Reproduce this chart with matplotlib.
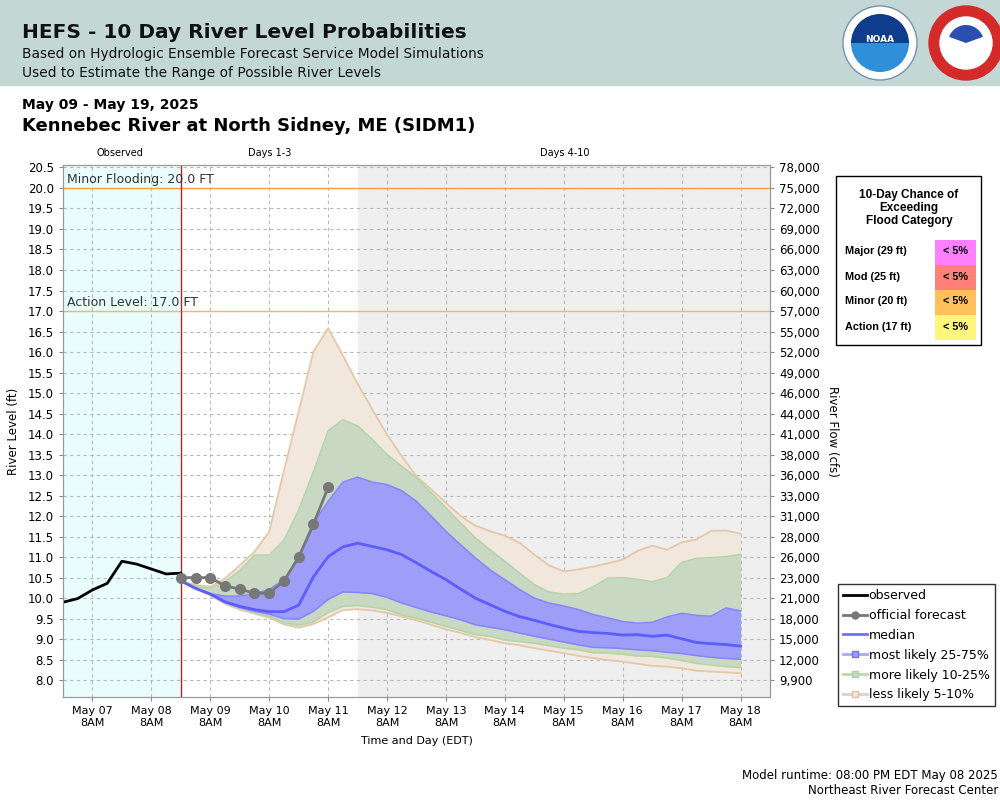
import numpy as np
import pandas as pd
import matplotlib
matplotlib.use("Agg")
import matplotlib.pyplot as plt
import matplotlib.dates as mdates
from matplotlib.patches import Rectangle, Circle, Wedge
from matplotlib.lines import Line2D

# ---------------- data ----------------
obs_start = "2025-05-06 20:00"
observed_stage = [9.90, 9.99, 10.20, 10.36, 10.90, 10.83, 10.71, 10.59, 10.61]

fc_start = "2025-05-08 20:00"
official_stage = [10.50, 10.50, 10.50, 10.30, 10.22, 10.12, 10.12, 10.42, 11.00, 11.80, 12.70]

p95 = [10.42, 10.32, 10.28, 10.48, 10.80, 11.13, 11.62, 13.11, 14.55, 16.01, 16.58, 15.92, 15.23,
       14.60, 13.99, 13.46, 12.97, 12.65, 12.32, 12.00, 11.77, 11.63, 11.52, 11.35, 11.06, 10.80,
       10.65, 10.70, 10.77, 10.85, 10.94, 11.15, 11.28, 11.18, 11.36, 11.43, 11.64, 11.65, 11.57]
p90 = [10.42, 10.29, 10.24, 10.40, 10.67, 11.05, 11.05, 11.41, 12.15, 13.08, 14.08, 14.35, 14.20,
       13.87, 13.50, 13.22, 12.93, 12.57, 12.20, 11.83, 11.47, 11.18, 10.90, 10.61, 10.33, 10.15,
       10.10, 10.11, 10.28, 10.49, 10.50, 10.46, 10.40, 10.50, 10.87, 10.97, 10.99, 11.01, 11.07]
p75 = [10.42, 10.24, 10.11, 10.05, 10.05, 10.11, 10.21, 10.45, 10.97, 11.82, 12.36, 12.83, 12.95,
       12.83, 12.77, 12.62, 12.36, 12.00, 11.63, 11.30, 10.98, 10.69, 10.45, 10.21, 10.00, 9.88,
       9.81, 9.72, 9.60, 9.52, 9.43, 9.39, 9.41, 9.54, 9.63, 9.58, 9.56, 9.76, 9.69]
p50 = [10.42, 10.24, 10.10, 9.91, 9.80, 9.72, 9.67, 9.67, 9.83, 10.52, 11.01, 11.25, 11.34,
       11.26, 11.18, 11.06, 10.86, 10.65, 10.45, 10.22, 10.00, 9.84, 9.68, 9.55, 9.46, 9.36,
       9.27, 9.19, 9.16, 9.14, 9.10, 9.11, 9.07, 9.10, 9.01, 8.92, 8.89, 8.87, 8.83]
p25 = [10.42, 10.24, 10.10, 9.89, 9.77, 9.68, 9.61, 9.50, 9.49, 9.68, 9.97, 10.15, 10.14,
       10.11, 10.02, 9.88, 9.77, 9.66, 9.57, 9.47, 9.35, 9.29, 9.23, 9.15, 9.07, 9.00,
       8.93, 8.86, 8.80, 8.79, 8.77, 8.74, 8.72, 8.68, 8.65, 8.60, 8.56, 8.53, 8.51]
p10 = [10.42, 10.23, 10.08, 9.88, 9.76, 9.65, 9.56, 9.40, 9.34, 9.42, 9.65, 9.80, 9.82,
       9.78, 9.72, 9.59, 9.51, 9.41, 9.31, 9.21, 9.11, 9.07, 8.98, 8.94, 8.90, 8.84,
       8.78, 8.74, 8.67, 8.66, 8.63, 8.59, 8.58, 8.54, 8.48, 8.41, 8.37, 8.33, 8.31]
p05 = [10.42, 10.22, 10.07, 9.86, 9.72, 9.62, 9.52, 9.36, 9.28, 9.37, 9.53, 9.71, 9.73,
       9.70, 9.64, 9.55, 9.46, 9.35, 9.24, 9.15, 9.05, 8.98, 8.90, 8.85, 8.78, 8.72,
       8.66, 8.59, 8.54, 8.49, 8.45, 8.40, 8.35, 8.33, 8.29, 8.23, 8.21, 8.19, 8.17]

stage_ticks = [20.5, 20.0, 19.5, 19.0, 18.5, 18.0, 17.5, 17.0, 16.5, 16.0, 15.5, 15.0, 14.5,
               14.0, 13.5, 13.0, 12.5, 12.0, 11.5, 11.0, 10.5, 10.0, 9.5, 9.0, 8.5, 8.0]
flow_labels = ["78,000", "75,000", "72,000", "69,000", "66,000", "63,000", "60,000", "57,000",
               "55,000", "52,000", "49,000", "46,000", "44,000", "41,000", "38,000", "36,000",
               "33,000", "31,000", "28,000", "26,000", "23,000", "21,000", "18,000", "15,000",
               "12,000", "9,900"]

flood_cats = ["Major (29 ft)", "Mod (25 ft)", "Minor (20 ft)", "Action (17 ft)"]
flood_chance = ["< 5%", "< 5%", "< 5%", "< 5%"]
flood_colors = ["#ff80ff", "#ff8078", "#ffbf5a", "#fff57a"]

minor_stage = 20.0
action_stage = 17.0

# ---------------- times ----------------
t_obs = pd.date_range(obs_start, periods=len(observed_stage), freq="6h")
t_off = pd.date_range(fc_start, periods=len(official_stage), freq="6h")
t_ens = pd.date_range(fc_start, periods=len(p50), freq="6h")
x_min = pd.Timestamp("2025-05-06 20:00")
x_max = pd.Timestamp("2025-05-18 20:00")
obs_end = pd.Timestamp(fc_start)
days4_start = pd.Timestamp("2025-05-11 20:00")
xtick_times = pd.date_range("2025-05-07 08:00", "2025-05-18 08:00", freq="D")

plt.rcParams["font.family"] = ["DejaVu Sans"]

fig = plt.figure(figsize=(10, 8), dpi=100)

# overlay in pixel coordinates
ov = fig.add_axes([0, 0, 1, 1])
ov.set_xlim(0, 1000)
ov.set_ylim(800, 0)
ov.axis("off")

ov.add_patch(Rectangle((0, 0), 1000, 85, color="#c3d8d5", zorder=0))
ov.text(22, 33, "HEFS - 10 Day River Level Probabilities", fontsize=14.5, fontweight="bold",
        va="center", ha="left", color="#111111")
ov.text(22, 54, "Based on Hydrologic Ensemble Forecast Service Model Simulations", fontsize=9.9,
        va="center", ha="left", color="#111111")
ov.text(22, 73, "Used to Estimate the Range of Possible River Levels", fontsize=9.9,
        va="center", ha="left", color="#111111")
ov.text(22, 105, "May 09 - May 19, 2025", fontsize=10, fontweight="bold", va="center", ha="left")
ov.text(22, 126, "Kennebec River at North Sidney, ME (SIDM1)", fontsize=13, fontweight="bold",
        va="center", ha="left")

# logos (approximate)
ov.add_patch(Circle((880, 43), 37, facecolor="white", edgecolor="#7a8fb0", lw=1, zorder=2))
ov.add_patch(Wedge((880, 43), 29, 180, 360, facecolor="#0f3c8c", zorder=3))
ov.add_patch(Wedge((880, 43), 29, 0, 180, facecolor="#2f8fd8", zorder=3))
ov.text(880, 40, "NOAA", fontsize=6.5, color="white", fontweight="bold", ha="center",
        va="center", zorder=4)
ov.add_patch(Circle((966, 43), 37, facecolor="#d42a2a", edgecolor="#d42a2a", zorder=2))
ov.add_patch(Circle((966, 43), 26, facecolor="white", edgecolor="white", zorder=3))
ov.add_patch(Wedge((966, 43), 18, 200, 340, facecolor="#2a4fb0", zorder=4))

# header labels above plot
ov.text(120, 153, "Observed", fontsize=7, ha="center", va="center")
ov.text(270, 153, "Days 1-3", fontsize=7, ha="center", va="center")
ov.text(565, 153, "Days 4-10", fontsize=7, ha="center", va="center")

# flood category box
ov.add_patch(Rectangle((836, 176), 145, 169, facecolor="white", edgecolor="black", lw=1))
for k, line in enumerate(["10-Day Chance of", "Exceeding", "Flood Category"]):
    ov.text(909, 195 + 13 * k, line, fontsize=8.5, fontweight="bold", ha="center", va="center",
            family=["Liberation Sans", "DejaVu Sans"])
for k, (cat, ch, col) in enumerate(zip(flood_cats, flood_chance, flood_colors)):
    y0 = 240 + 25 * k
    ov.add_patch(Rectangle((935, y0), 41, 25, facecolor=col, edgecolor="none"))
    ov.text(845, y0 + 11.5, cat, fontsize=7.8, fontweight="bold", ha="left", va="center",
            family=["Liberation Sans", "DejaVu Sans"])
    ov.text(955.5, y0 + 11.5, ch, fontsize=7.8, fontweight="bold", ha="center", va="center",
            family=["Liberation Sans", "DejaVu Sans"])

# footer
ov.text(998, 775, "Model runtime: 08:00 PM EDT May 08 2025", fontsize=8.5, ha="right", va="center")
ov.text(998, 791, "Northeast River Forecast Center", fontsize=8.5, ha="right", va="center")

# ---------------- main axes ----------------
ax = fig.add_axes([0.063, 0.12875, 0.707, 0.665])
ax.set_xlim(x_min, x_max)
ax.set_ylim(7.59, 20.56)

ax.axvspan(x_min, obs_end, color="#eafdfd", zorder=0, lw=0)
ax.axvspan(days4_start, x_max, color="#efefef", zorder=0, lw=0)

ax.set_yticks(stage_ticks)
ax.set_yticklabels([f"{v:.1f}" for v in stage_ticks])
ax.set_xticks(xtick_times)
ax.set_xticklabels([t.strftime("%b %d") + "\n8AM" for t in xtick_times])
ax.grid(True, color="#b8b8b8", linestyle=(0, (3, 3)), lw=0.8, zorder=1)
ax.set_axisbelow(True)
ax.tick_params(axis="y", labelsize=8.5, length=3, color="#888888")
ax.tick_params(axis="x", labelsize=8, length=3, color="#888888")
for s in ax.spines.values():
    s.set_color("#999999")

ax.axhline(minor_stage, color="#ffa030", lw=1, zorder=2)
ax.axhline(action_stage, color="#f0c040", lw=1, zorder=2)
ax.text(mdates.date2num(x_min) + 0.06, minor_stage + 0.04, "Minor Flooding: 20.0 FT",
        fontsize=9, color="#333333", va="bottom", ha="left", zorder=6)
ax.text(mdates.date2num(x_min) + 0.06, action_stage + 0.04, "Action Level: 17.0 FT",
        fontsize=9, color="#333333", va="bottom", ha="left", zorder=6)

tan_fill, tan_edge = "#f1e7dd", "#e3c9a9"
grn_fill, grn_edge = "#c8d8c3", "#b3d5a6"
blu_fill, blu_edge = "#9e9ef9", "#8585ff"

ax.fill_between(t_ens, p05, p95, color=tan_fill, lw=0, zorder=3)
ax.fill_between(t_ens, p10, p90, color=grn_fill, lw=0, zorder=3)
ax.fill_between(t_ens, p25, p75, color=blu_fill, lw=0, zorder=3)
ax.plot(t_ens, p95, color=tan_edge, lw=1.3, zorder=3)
ax.plot(t_ens, p05, color=tan_edge, lw=1.3, zorder=3)
ax.plot(t_ens, p90, color=grn_edge, lw=1.1, zorder=3)
ax.plot(t_ens, p10, color=grn_edge, lw=1.1, zorder=3)
ax.plot(t_ens, p75, color=blu_edge, lw=1.1, zorder=3)
ax.plot(t_ens, p25, color=blu_edge, lw=1.1, zorder=3)
ax.plot(t_ens, p50, color="#5c5cff", lw=2, zorder=4)

ax.axvline(obs_end, color="#b02828", lw=1, zorder=4)
ax.plot(t_obs, observed_stage, color="black", lw=2, zorder=5)
ax.plot(t_off, official_stage, color="#777777", lw=2, marker="o", ms=7, zorder=5)

ax.set_ylabel("River Level (ft)", fontsize=8.5, labelpad=6)
ax.set_xlabel("Time and Day (EDT)", fontsize=8, labelpad=6)

ax2 = ax.twinx()
ax2.set_ylim(ax.get_ylim())
ax2.set_yticks(stage_ticks)
ax2.set_yticklabels(flow_labels)
ax2.tick_params(axis="y", labelsize=8.5, length=3, color="#888888")
for s in ax2.spines.values():
    s.set_color("#999999")
ax2.set_ylabel("River Flow (cfs)", fontsize=8.5, rotation=-90, labelpad=14)

# legend
handles = [
    Line2D([], [], color="black", lw=2),
    Line2D([], [], color="#777777", lw=2, marker="o", ms=5),
    Line2D([], [], color="#7070ff", lw=2),
    Line2D([], [], color="#a8a8ff", lw=2, marker="s", ms=5, mfc="#9e9ef9", mec="#7070ff"),
    Line2D([], [], color="#b9dcae", lw=2, marker="s", ms=5, mfc="#c8d8c3", mec="#a8d098"),
    Line2D([], [], color="#e6cfb5", lw=2, marker="s", ms=5, mfc="#f1e7dd", mec="#dcc3a5"),
]
labels = ["observed", "official forecast", "median", "most likely 25-75%",
          "more likely 10-25%", "less likely 5-10%"]
leg = fig.legend(handles, labels, loc="upper left", bbox_to_anchor=(838 / 1000, 1 - 584 / 800),
                 frameon=True, fancybox=False, edgecolor="black", fontsize=9,
                 handlelength=1.9, handletextpad=0.15, labelspacing=0.55, borderpad=0.4,
                 borderaxespad=0)
leg.get_frame().set_linewidth(1.0)

fig.savefig("out.png", dpi=100)
